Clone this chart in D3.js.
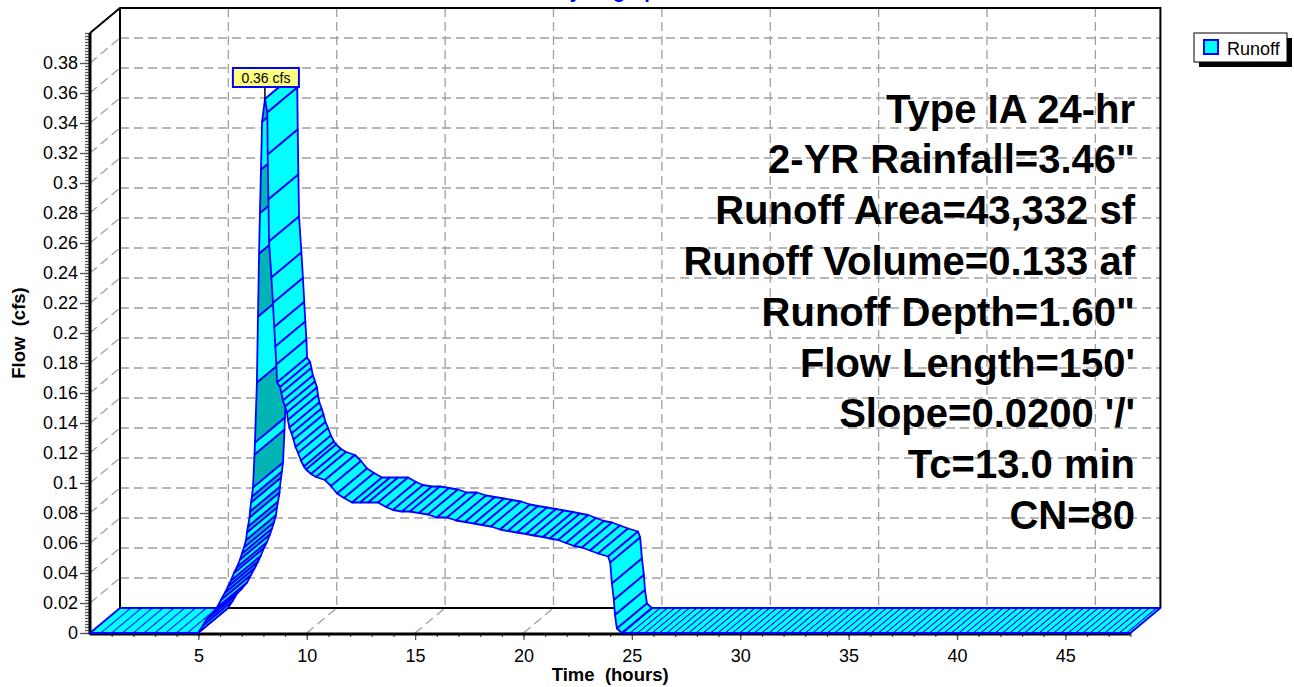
<!DOCTYPE html>
<head>
<meta charset="utf-8">
<script src="https://d3js.org/d3.v7.min.js"></script>
<style>
    body { margin: 0; background: #fff; }
    text { font-family: Arial, "Liberation Sans", sans-serif; }
    .grid { stroke: #a0a0a0; stroke-width: 1.3; stroke-dasharray: 9,5; fill: none; }
    .wall { stroke: #000; stroke-width: 2; fill: none; }
    .axis path { display: none; }
    .axis line { stroke: #555; stroke-width: 1.3; }
    .axis text { font-size: 18px; fill: #000; }
    .info { font-size: 40px; font-weight: bold; text-anchor: end; }
    .ribbon { stroke: #0000ff; stroke-width: 1.8; stroke-linejoin: round; }
</style>
</head>
<body>
<svg id="chart" width="1294" height="687"></svg>
<script>
// hydrograph points (hours, cfs)
var hours = [0, 4.98,
    5.21, 5.37, 5.63, 5.86, 6.04, 6.23, 6.37, 6.5, 6.64, 6.78,
    6.92, 7.01, 7.1, 7.2, 7.24, 7.29, 7.36, 7.38, 7.43, 7.47,
    7.52, 7.59, 7.61, 7.70, 7.75, 7.80, 7.84, 7.89, 7.94, 8.07,
    8.18, 8.20, 8.23, 8.26, 8.37, 8.44, 8.50, 8.55, 8.60, 8.63,
    8.77, 8.83, 8.90, 9.00, 9.09, 9.13, 9.20, 9.30, 9.39, 9.48,
    9.60, 9.73, 9.87, 9.97, 10.2, 10.43, 10.84, 11.12, 11.4, 11.72,
    12.09, 12.46, 12.83, 13.29, 13.66, 13.98, 14.39, 14.76, 15.18, 15.59,
    16.0, 16.47, 16.89, 17.3, 17.72, 18.09, 18.5, 18.92, 19.28, 19.7,
    20.12, 20.48, 20.9, 21.22, 21.6, 21.96, 22.33, 22.7, 23.07, 23.44,
    23.9, 24.0, 24.08, 24.17, 24.22, 24.31, 24.54, 48];
var flows = [0, 0,
    .005, .009, .013, .017, .022, .027, .031, .035, .040, .044,
    .049, .053, .057, .062, .067, .071, .077, .081, .087, .091,
    .097, .119, .127, .167, .211, .253, .280, .309, .341, .356,
    .347, .319, .289, .261, .237, .220, .204, .191, .179, .167,
    .164, .160, .155, .151, .147, .142, .137, .133, .129, .124,
    .120, .115, .111, .109, .106, .104, .102, .098, .093, .090,
    .087, .087, .087, .087, .084, .082, .081, .081, .080, .079,
    .077, .077, .075, .074, .073, .072, .071, .069, .068, .067,
    .066, .065, .064, .063, .062, .060, .058, .057, .055, .053,
    .051, .047, .033, .022, .012, .003, 0, 0];

var xTickValues = [5, 10, 15, 20, 25, 30, 35, 40, 45];
var yTickValues = [0, 0.02, 0.04, 0.06, 0.08, 0.1, 0.12, 0.14, 0.16, 0.18, 0.2,
    0.22, 0.24, 0.26, 0.28, 0.3, 0.32, 0.34, 0.36, 0.38];
var infoLines = ["Type IA 24-hr", "2-YR Rainfall=3.46\"", "Runoff Area=43,332 sf",
    "Runoff Volume=0.133 af", "Runoff Depth=1.60\"", "Flow Length=150'",
    "Slope=0.0200 '/'", "Tc=13.0 min", "CN=80"];
var seriesName = "Runoff";

var svg = d3.select("#chart");
var x = d3.scaleLinear().domain([0, 48]).range([90, 1130.4]);
var y = d3.scaleLinear().domain([0, 0.4]).range([633, 33]);
var D = {dx: 30, dy: -25};   // depth offset of the back wall

// hatch patterns for the flat parts of the ribbon
var defs = svg.append("defs");
[["hatchL", 10.8], ["hatchR", 7.3]].forEach(function(p) {
    var pat = defs.append("pattern")
        .attr("id", p[0])
        .attr("patternUnits", "userSpaceOnUse")
        .attr("x", (90 - y(0) * D.dx / D.dy) - p[1] / 2)
        .attr("width", p[1]).attr("height", 700)
        .attr("patternTransform", "skewX(" + (Math.atan(D.dx / D.dy) * 180 / Math.PI) + ")");
    pat.append("rect").attr("width", p[1]).attr("height", 700).attr("fill", "#00ffff");
    pat.append("line").attr("x1", p[1] / 2).attr("x2", p[1] / 2)
        .attr("y1", 0).attr("y2", 700)
        .attr("stroke", "#0000ff").attr("stroke-width", 1.6);
});

// back wall grid
var gGrid = svg.append("g");
gGrid.selectAll(".vg").data(xTickValues).enter().append("line")
    .attr("class", "grid")
    .attr("x1", d => x(d) + D.dx).attr("x2", d => x(d) + D.dx)
    .attr("y1", y(0.4) + D.dy).attr("y2", y(0) + D.dy);
gGrid.selectAll(".hg").data(yTickValues.slice(1)).enter().append("line")
    .attr("class", "grid")
    .attr("x1", x(0) + D.dx).attr("x2", x(48) + D.dx)
    .attr("y1", d => y(d) + D.dy).attr("y2", d => y(d) + D.dy);
// side wall and floor diagonals
gGrid.selectAll(".dy").data(yTickValues.slice(1)).enter().append("line")
    .attr("class", "grid").attr("stroke-dasharray", "6,5")
    .attr("x1", x(0)).attr("x2", x(0) + D.dx)
    .attr("y1", d => y(d)).attr("y2", d => y(d) + D.dy);
gGrid.selectAll(".dx").data(xTickValues).enter().append("line")
    .attr("class", "grid").attr("stroke-dasharray", "6,5")
    .attr("x1", d => x(d)).attr("x2", d => x(d) + D.dx)
    .attr("y1", y(0)).attr("y2", y(0) + D.dy);

// wall outline
svg.append("path").attr("class", "wall")
    .attr("d", d3.line()([[x(0), y(0.4)], [x(0) + D.dx, y(0.4) + D.dy],
        [x(48) + D.dx, y(0.4) + D.dy], [x(48) + D.dx, y(0) + D.dy]]));
svg.append("path").attr("class", "wall")
    .attr("d", d3.line()([[x(0) + D.dx, y(0.4) + D.dy], [x(0) + D.dx, y(0) + D.dy],
        [x(48) + D.dx, y(0) + D.dy]]));

// axes
svg.append("g").attr("class", "axis").attr("transform", "translate(" + x(0) + ",0)")
    .call(d3.axisLeft(y).tickValues(d3.range(0, 0.4001, 0.002)).tickSize(5).tickFormat(""));
svg.append("g").attr("class", "axis").attr("transform", "translate(" + x(0) + ",0)")
    .call(d3.axisLeft(y).tickValues(yTickValues).tickSize(10).tickPadding(2)
        .tickFormat(d => String(+d.toFixed(2))));
svg.append("g").attr("class", "axis").attr("transform", "translate(0," + y(0) + ")")
    .call(d3.axisBottom(x).tickValues(d3.range(1, 49)).tickSize(4).tickFormat(""));
svg.append("g").attr("class", "axis").attr("transform", "translate(0," + y(0) + ")")
    .call(d3.axisBottom(x).tickValues(xTickValues).tickSize(7).tickPadding(9));

svg.append("line").attr("x1", x(0)).attr("x2", x(0)).attr("y1", y(0) + 1.5).attr("y2", y(0.4))
    .attr("stroke", "#000").attr("stroke-width", 3);
svg.append("line").attr("x1", x(0)).attr("x2", x(48)).attr("y1", y(0) + 1).attr("y2", y(0) + 1)
    .attr("stroke", "#000").attr("stroke-width", 3);

// axis titles
svg.append("text").attr("transform", "translate(25," + y(0.2) + ") rotate(-90)")
    .attr("text-anchor", "middle").style("white-space", "pre")
    .style("font-size", "18.5px").style("font-weight", "bold").text("Flow  (cfs)");
svg.append("text").attr("x", (x(0) + x(48)) / 2).attr("y", 681)
    .attr("text-anchor", "middle").style("white-space", "pre")
    .style("font-size", "18.5px").style("font-weight", "bold").text("Time  (hours)");
svg.append("text").attr("x", 612).attr("y", -2.5).attr("text-anchor", "middle")
    .style("font-size", "20px").style("font-weight", "bold").attr("fill", "#0000ff")
    .text("Hydrograph");

// info block
svg.selectAll(".info").data(infoLines).enter().append("text")
    .attr("class", "info")
    .attr("x", 1135)
    .attr("y", (d, i) => 122.6 + i * 50.8)
    .text(d => d);

// 3D ribbon, drawn segment by segment in time order
var pts = hours.map((h, i) => ({t: h, v: flows[i]}));
var segs = d3.pairs(pts).map(function(p, i) {
    var a = [x(p[0].t), y(p[0].v)], b = [x(p[1].t), y(p[1].v)];
    var fill;
    if (p[0].v === 0 && p[1].v === 0) {
        fill = p[0].t < 10 ? "url(#hatchL)" : "url(#hatchR)";
    } else {
        var under = (b[0] - a[0]) * D.dy - (b[1] - a[1]) * D.dx > 0;
        fill = (under && i % 2 === 0) ? "#00b4b4" : "#00ffff";
    }
    return {poly: [a, b, [b[0] + D.dx, b[1] + D.dy], [a[0] + D.dx, a[1] + D.dy]], fill: fill};
});
svg.append("g").selectAll("path").data(segs).enter().append("path")
    .attr("class", "ribbon")
    .attr("d", d => d3.line()(d.poly) + "Z")
    .attr("fill", d => d.fill);

// peak label
var peak = d3.max(flows);
var peakT = hours[flows.indexOf(peak)];
var px = x(peakT), py = y(peak);
svg.append("line").attr("x1", px).attr("x2", px).attr("y1", py).attr("y2", py - 12)
    .attr("stroke", "#000").attr("stroke-width", 1.5);
svg.append("rect").attr("x", px - 32).attr("y", py - 31).attr("width", 66).attr("height", 19)
    .attr("fill", "#ffff80").attr("stroke", "#0000ff").attr("stroke-width", 2);
svg.append("text").attr("x", px + 1).attr("y", py - 16.5).attr("text-anchor", "middle")
    .style("font-size", "14px").text(peak.toFixed(2) + " cfs");

// legend
var lg = svg.append("g").attr("transform", "translate(1194,33)");
lg.append("rect").attr("x", 5).attr("y", 5).attr("width", 93).attr("height", 29).attr("fill", "#000");
lg.append("rect").attr("width", 93).attr("height", 29).attr("fill", "#fff")
    .attr("stroke", "#000").attr("stroke-width", 1);
lg.append("rect").attr("x", 10).attr("y", 7).attr("width", 14).attr("height", 14)
    .attr("fill", "#00ffff").attr("stroke", "#0000ff").attr("stroke-width", 2);
lg.append("text").attr("x", 33).attr("y", 22).style("font-size", "18px").text(seriesName);
</script>
</body>
